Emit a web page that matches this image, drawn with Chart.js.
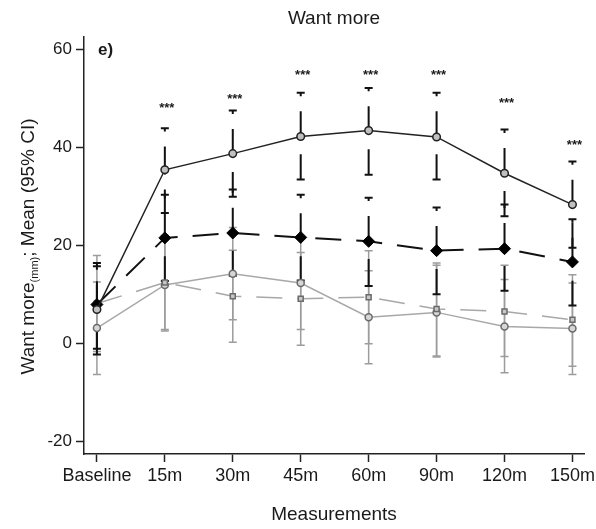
<!DOCTYPE html>
<html><head><meta charset="utf-8">
<script src="https://cdn.jsdelivr.net/npm/chart.js@4/dist/chart.umd.min.js"></script>
<style>html,body{margin:0;padding:0;background:#fff}</style>
</head><body>
<canvas id="c" width="596" height="529"></canvas>
<script>
// ---- data ----
const categories = ['Baseline','15m','30m','45m','60m','90m','120m','150m'];
const yTicks = [-20, 0, 20, 40, 60];

// black solid line, open markers
const blackSolidMean  = [7.0, 35.5, 38.8, 42.3, 43.5, 42.2, 34.8, 28.4];
const blackSolidLower = [-2.2, 26.7, 30.0, 33.5, 34.5, 33.5, 26.0, 19.6];
const blackSolidUpper = [15.8, 44.0, 47.6, 51.2, 52.2, 51.2, 43.7, 37.2];

// black dashed line, filled diamonds
const blackDashMean  = [8.0, 21.6, 22.6, 21.7, 20.9, 19.0, 19.4, 16.7];
const blackDashLower = [-1.0, 12.8, 13.9, 12.9, 11.8, 10.1, 10.8, 7.8];
const blackDashUpper = [16.5, 30.4, 31.5, 30.4, 29.8, 27.8, 28.4, 25.4];

// grey solid line
const greySolidMean  = [3.2, 12.0, 14.3, 12.4, 5.4, 6.4, 3.5, 3.1];
const greySolidLower = [-6.3, 2.6, 4.9, 2.9, -4.1, -2.7, -5.9, -6.3];
const greySolidUpper = [12.6, 21.4, 23.7, 21.9, 14.9, 16.0, 13.1, 12.4];

// grey dashed line
const greyDashMean  = [8.2, 12.5, 9.7, 9.2, 9.5, 7.1, 6.6, 4.9];
const greyDashLower = [-1.6, 2.9, 0.3, -0.3, 0.0, -2.5, -2.6, -4.6];
const greyDashUpper = [18.0, 22.1, 19.1, 18.6, 19.0, 16.5, 16.0, 14.1];

// significance marks above the black solid series
const sigLabels = ['', '***', '***', '***', '***', '***', '***', '***'];
const sigY      = [null, 48.9, 50.8, 55.7, 55.7, 55.7, 50.0, 41.3];

const titleText = 'Want more';
const panelLabel = 'e)';
const xTitle = 'Measurements';
const yTitleMain = 'Want more';
const yTitleSub = '(mm)';
const yTitleRest = '; Mean (95% CI)';

// ---- helpers ----
const pts = arr => arr.map((v, i) => ({x: i, y: v}));
const FONT = "'Liberation Sans', Arial, sans-serif";
const TXT = '#1a1a1a';

const errorBars = {
  id: 'errorBars',
  beforeDatasetsDraw(chart) {
    const {ctx, scales: {x, y}} = chart;
    const sets = [
      {lo: greySolidLower, hi: greySolidUpper, color: '#9c9c9c', w: 1.5, dash: []},
      {lo: greyDashLower, hi: greyDashUpper, color: '#9c9c9c', w: 1.5, dash: []},
      {lo: blackDashLower, hi: blackDashUpper, color: '#111', w: 2, dash: [28, 15]},
      {lo: blackSolidLower, hi: blackSolidUpper, color: '#111', w: 2, dash: [28, 15]},
    ];
    ctx.save();
    for (const s of sets) {
      for (let i = 0; i < categories.length; i++) {
        const px = x.getPixelForValue(i);
        const yl = y.getPixelForValue(s.lo[i]);
        const yh = y.getPixelForValue(s.hi[i]);
        ctx.strokeStyle = s.color;
        ctx.lineWidth = s.w;
        ctx.setLineDash(s.dash);
        ctx.lineDashOffset = s.dash.length ? 24.6 : 0;
        ctx.beginPath();
        ctx.moveTo(px, yh);
        ctx.lineTo(px, yl);
        ctx.stroke();
        ctx.setLineDash([]);
        ctx.beginPath();
        ctx.moveTo(px - 4, yh); ctx.lineTo(px + 4, yh);
        ctx.moveTo(px - 4, yl); ctx.lineTo(px + 4, yl);
        ctx.stroke();
      }
    }
    ctx.restore();
  }
};

const annotations = {
  id: 'annotations',
  afterDraw(chart) {
    const {ctx, chartArea, scales: {x, y}} = chart;
    ctx.save();
    ctx.fillStyle = TXT;
    ctx.font = 'bold 13px ' + FONT;
    ctx.textAlign = 'center';
    ctx.textBaseline = 'alphabetic';
    for (let i = 0; i < categories.length; i++) {
      if (!sigLabels[i]) continue;
      const px = x.getPixelForValue(i) + 2;
      const py = y.getPixelForValue(sigY[i]);
      ctx.fillText(sigLabels[i], px, py + 8);
    }
    ctx.font = 'bold 17px ' + FONT;
    ctx.textAlign = 'left';
    ctx.textBaseline = 'middle';
    ctx.fillText(panelLabel, chartArea.left + 14, chartArea.top + 13);
    const big = '19px ' + FONT, small = '11px ' + FONT;
    ctx.font = big; const w1 = ctx.measureText(yTitleMain).width; const w3 = ctx.measureText(yTitleRest).width;
    ctx.font = small; const w2 = ctx.measureText(yTitleSub).width;
    const total = w1 + w2 + w3;
    const cy = (chartArea.top + chartArea.bottom) / 2 + 1;
    ctx.translate(34, cy);
    ctx.rotate(-Math.PI / 2);
    ctx.textAlign = 'left';
    ctx.textBaseline = 'alphabetic';
    let sx = -total / 2;
    ctx.font = big; ctx.fillText(yTitleMain, sx, 0); sx += w1;
    ctx.font = small; ctx.fillText(yTitleSub, sx, 4); sx += w2;
    ctx.font = big; ctx.fillText(yTitleRest, sx, 0);
    ctx.restore();
  }
};

new Chart(document.getElementById('c'), {
  type: 'line',
  data: {
    datasets: [
      {data: pts(greySolidMean), borderColor: '#a8a8a8', borderWidth: 1.5,
       pointStyle: 'circle', pointRadius: 3.5, pointBorderColor: '#6a6a6a', pointBackgroundColor: '#d6d6d6', pointBorderWidth: 1.5, order: 4},
      {data: pts(greyDashMean), borderColor: '#a8a8a8', borderWidth: 1.5, borderDash: [26, 15],
       pointStyle: 'rect', pointRadius: 3.5, pointBorderColor: '#6a6a6a', pointBackgroundColor: '#c8c8c8', pointBorderWidth: 1.5, order: 3},
      {data: pts(blackDashMean), borderColor: '#111', borderWidth: 2, borderDash: [26, 15],
       pointStyle: 'rectRot', pointRadius: 6, pointBorderColor: '#000', pointBackgroundColor: '#000', pointBorderWidth: 1, order: 2},
      {data: pts(blackSolidMean), borderColor: '#222', borderWidth: 1.5,
       pointStyle: 'circle', pointRadius: 3.8, pointBorderColor: '#222', pointBackgroundColor: '#c0c0c0', pointBorderWidth: 1.5, order: 1},
    ]
  },
  options: {
    responsive: false,
    animation: false,
    devicePixelRatio: 1,
    layout: {padding: {left: 0, right: 12, top: 0, bottom: 0}},
    plugins: {
      legend: {display: false},
      tooltip: {enabled: false},
      title: {display: true, text: titleText, fullSize: false, color: TXT,
              font: {family: FONT, size: 19, weight: 'normal'}, padding: {top: 7, bottom: 7.2}}
    },
    scales: {
      x: {
        type: 'linear', min: -0.19, max: 7.17,
        afterBuildTicks: s => { s.ticks = categories.map((c, i) => ({value: i})); },
        afterFit: s => { s.height = 75; s.paddingRight = 0; s.paddingLeft = 0; },
        ticks: {callback: (v) => categories[v], color: TXT, font: {family: FONT, size: 18}, padding: 3, maxRotation: 0, autoSkip: false},
        grid: {drawOnChartArea: false, tickLength: 8, tickColor: '#222', tickWidth: 1.5},
        border: {color: '#222', width: 1.5},
        title: {display: true, text: xTitle, color: TXT, font: {family: FONT, size: 19}, padding: {top: 0, bottom: 3}}
      },
      y: {
        min: -22.5, max: 62.6,
        afterBuildTicks: s => { s.ticks = yTicks.map(v => ({value: v})); },
        afterFit: s => { s.width = 84; },
        ticks: {color: TXT, font: {family: FONT, size: 17}, padding: 4},
        grid: {drawOnChartArea: false, tickLength: 8, tickColor: '#222', tickWidth: 1.5},
        border: {color: '#222', width: 1.5}
      }
    }
  },
  plugins: [errorBars, annotations]
});
</script>
</body></html>
